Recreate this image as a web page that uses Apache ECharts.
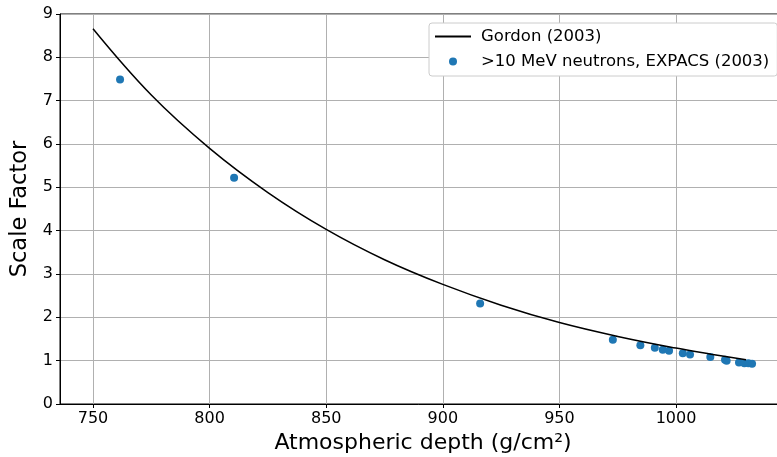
<!DOCTYPE html>
<html><head><meta charset="utf-8">
<script src="https://cdn.jsdelivr.net/npm/echarts@6/dist/echarts.min.js"></script>
<style>html,body{margin:0;padding:0;background:#fff}#c{width:777px;height:457px}</style>
</head><body><div id="c"></div>
<script>
const gordonDepth = [750, 775, 800, 825, 850, 875, 900, 925, 950, 975, 1000, 1015, 1030];
const gordonFactor = [8.66, 7.13, 5.90, 4.88, 4.03, 3.33, 2.76, 2.28, 1.88, 1.56, 1.29, 1.15, 1.02];
const expacsDepth = [761.6, 810.5, 916.0, 972.9, 984.7, 990.9, 994.3, 997.0, 1002.9, 1006.0, 1014.7, 1021.0, 1021.7, 1027.0, 1029.3, 1031.0, 1032.6];
const expacsFactor = [7.49, 5.22, 2.32, 1.48, 1.355, 1.30, 1.25, 1.23, 1.17, 1.14, 1.085, 1.02, 1.0, 0.96, 0.94, 0.94, 0.93];
const xTicks = [750, 800, 850, 900, 950, 1000];
const yTicks = [0, 1, 2, 3, 4, 5, 6, 7, 8, 9];

const font = 'DejaVu Sans';
const chart = echarts.init(document.getElementById('c'), null, {renderer: 'canvas'});
chart.setOption({
  animation: false,
  backgroundColor: '#fff',
  grid: {left: 60, top: 14, width: 726, height: 390, outerBoundsMode: 'none', containLabel: false,
         show: true, borderColor: '#000', borderWidth: 1, backgroundColor: 'transparent'},
  legend: {
    left: 429, top: 23, orient: 'vertical',
    backgroundColor: '#fff', borderColor: '#cccccc', borderWidth: 1, borderRadius: 3,
    padding: [5, 8, 6, 5], itemGap: 8, itemWidth: 36, itemHeight: 8,
    textStyle: {fontFamily: font, fontSize: 16.5, color: '#000', padding: [0, 0, 0, 5]},
    data: [
      {name: 'Gordon (2003)', itemStyle: {opacity: 0}},
      {name: '>10 MeV neutrons, EXPACS (2003)', icon: 'circle'}
    ]
  },
  xAxis: {
    type: 'value', min: 735.85, max: 1047.15,
    axisLine: {show: true, lineStyle: {color: '#000', width: 1}},
    axisTick: {show: true, customValues: xTicks, length: 4, lineStyle: {color: '#000'}},
    axisLabel: {customValues: xTicks, formatter: v => String(v), fontFamily: font, fontSize: 16, color: '#000', margin: 7},
    splitLine: {show: true, lineStyle: {color: '#b0b0b0', width: 1}},
    name: 'Atmospheric depth (g/cm²)', nameLocation: 'middle', nameGap: 25,
    nameTextStyle: {fontFamily: font, fontSize: 22, color: '#000'}
  },
  yAxis: {
    type: 'value', min: 0, max: 9, interval: 1,
    axisLine: {show: true, lineStyle: {color: '#000', width: 1}},
    axisTick: {show: true, length: 4, lineStyle: {color: '#000'}},
    axisLabel: {formatter: v => String(v), fontFamily: font, fontSize: 16, color: '#000', margin: 7},
    splitLine: {show: true, lineStyle: {color: '#b0b0b0', width: 1}},
    name: 'Scale Factor', nameLocation: 'middle', nameGap: 24,
    nameTextStyle: {fontFamily: font, fontSize: 22.5, color: '#000'}
  },
  series: [
    {name: 'Gordon (2003)', type: 'line', smooth: 0.4, symbol: 'none',
     lineStyle: {color: '#000', width: 1.5}, itemStyle: {color: '#000'},
     data: gordonDepth.map((d, i) => [d, gordonFactor[i]])},
    {name: '>10 MeV neutrons, EXPACS (2003)', type: 'scatter', symbolSize: 8,
     itemStyle: {color: '#1f77b4', opacity: 1},
     data: expacsDepth.map((d, i) => [d, expacsFactor[i]])}
  ]
});
</script></body></html>
